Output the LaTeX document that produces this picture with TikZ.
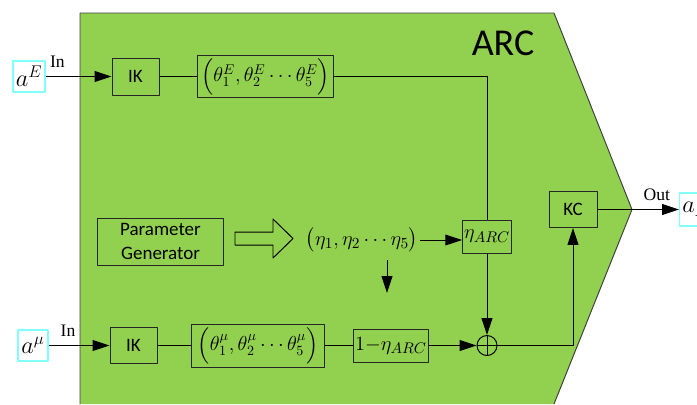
\documentclass[tikz,border=0pt]{standalone}
\usepackage{amsmath}
\usepackage{fontspec}
\setmainfont{Liberation Serif}
\setsansfont{Carlito}
\usetikzlibrary{arrows.meta, positioning}
\definecolor{arcgreen}{RGB}{146,208,80}
\definecolor{portcyan}{RGB}{128,255,255}
\newcommand{\mfont}{\fontsize{15}{18}\selectfont}
\newcommand{\tfont}{\fontsize{14}{17}\selectfont}

\begin{document}
\begin{tikzpicture}[
  x=0.025cm,y=-0.025cm,
  line join=round,
  >={Triangle[length=0.42cm,width=0.27cm]},
  blk/.style={draw=black!85,line width=0.7pt,inner sep=1pt,font=\sffamily\fontsize{13.5}{16.4}\selectfont},
  mblk/.style={draw=black!85,line width=0.7pt,inner sep=1pt,font=\mfont},
  port/.style={draw=portcyan,fill=white,line width=0.8pt,inner sep=0pt,font=\fontsize{18}{20}\selectfont},
  wire/.style={draw=black,line width=0.7pt},
  lbl/.style={font=\fontsize{12.5}{14}\selectfont,inner sep=1pt}
]

\useasboundingbox (0,0) rectangle (697,404);

% ARC block
\fill[arcgreen] (80,13) -- (554,13) -- (632,209.5) -- (554,404) -- (80,404) -- cycle;
\draw[black!75,line width=0.7pt] (80,404) -- (80,13) -- (554,13) -- (632,209.5) -- (554,404);
\node[font=\sffamily\fontsize{27}{32}\selectfont] (arc) at (503,43) {ARC};

% upper path
\node[port,minimum width=0.8cm,minimum height=0.775cm] (aE) at (29,76.5) {$a^{E}$};
\node[blk,minimum width=1.175cm,minimum height=0.925cm] (ikE) at (135.5,76.5) {IK};
\node[mblk,font=\tfont,minimum width=3.375cm,minimum height=1.05cm] (thE) at (265.5,76.5)
  {$\Bigl(\theta_1^{E},\theta_2^{E}\cdots\theta_5^{E}\Bigr)$};

% parameter generator
\node[blk,align=center,minimum width=3.125cm,minimum height=1.175cm] (param) at (160.5,241.5) {Parameter\\Generator};
\draw[black,line width=0.7pt] (235,232) -- (273,232) -- (273,219) -- (293,238.5)
  -- (273,258) -- (273,245) -- (235,245) -- cycle;
\node[font=\mfont,inner sep=1pt] (etas) at (362,240) {$\bigl(\eta_1,\eta_2\cdots\eta_5\bigr)$};
\node[mblk,minimum width=1.2cm,minimum height=0.825cm] (etaarc) at (487,236.5) {$\eta_{ARC}$};
\coordinate (dnA) at (387,260);
\coordinate (dnB) at (387,293);

% lower path
\node[port,minimum width=0.75cm,minimum height=0.775cm] (amu) at (33,345.5) {$a^{\mu}$};
\node[blk,minimum width=1.175cm,minimum height=0.9cm] (ikM) at (133.5,345.5) {IK};
\node[mblk,font=\tfont,minimum width=3.3cm,minimum height=1.075cm] (thM) at (258,345.5)
  {$\Bigl(\theta_1^{\mu},\theta_2^{\mu}\cdots\theta_5^{\mu}\Bigr)$};
\node[mblk,minimum width=1.85cm,minimum height=0.825cm] (oneeta) at (391,345.5) {$1{-}\eta_{ARC}$};
\node[draw=black,line width=0.7pt,circle,minimum size=0.5cm,inner sep=0pt] (sum) at (487,345.5) {};
\draw[wire] (sum.north) -- (sum.south) (sum.west) -- (sum.east);

% output
\node[blk,minimum width=1.2cm,minimum height=0.9cm] (kc) at (573,209.5) {KC};
\coordinate (tip) at (632,209.5);
\node[port,anchor=west,inner sep=2pt,minimum height=0.825cm] (aOut) at (679,209.5) {$a_{ARC}$};

% connections
\draw[wire,->] (aE) -- node[lbl,pos=0.18,above=5pt] {In} (ikE);
\draw[wire] (ikE) -- (thE);
\draw[wire] (thE.east) -| (etaarc.north);
\draw[wire,->] (etas.east) -- (etas.east -| etaarc.west);
\draw[wire,->] (dnA) -- (dnB);
\draw[wire,->] (etaarc) -- (sum);
\draw[wire,->] (amu) -- node[lbl,pos=0.32,above=5pt] {In} (ikM);
\draw[wire] (ikM) -- (thM) -- (oneeta);
\draw[wire,->] (oneeta) -- (sum);
\draw[wire,->] (sum.east) -| (kc.south);
\draw[wire] (kc.east) -- (tip);
\draw[wire,->] (tip) -- node[lbl,pos=0.53,above=5pt] {Out} (aOut);

\end{tikzpicture}
\end{document}
